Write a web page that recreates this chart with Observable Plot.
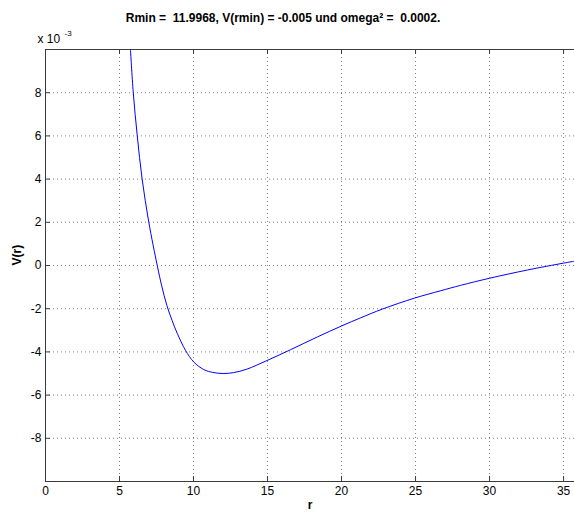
<!DOCTYPE html>
<html>
<head>
<meta charset="utf-8">
<script src="https://cdn.jsdelivr.net/npm/d3@7"></script>
<script src="https://cdn.jsdelivr.net/npm/@observablehq/plot@0.6"></script>
<style>
  html, body { margin: 0; padding: 0; background: #fff; }
  svg { white-space: pre; }
</style>
</head>
<body>
<div id="chart"></div>
<script>
// r values
const r = [5.74, 5.93, 6.20, 6.53, 6.98, 7.55, 7.85, 8.20, 8.55, 8.90, 9.46, 10.02, 10.7, 11.3, 12.0, 12.7, 13.6, 14.9, 16.55, 18.36, 20.0, 21.3, 22.75, 24.93, 26.69, 28.04, 30.0, 32.55, 35.0, 35.74];
// V(r) in units of 1e-3
const v = [10.0, 8.0, 6.0, 4.0, 2.0, 0.0, -0.94, -1.85, -2.54, -3.14, -3.93, -4.47, -4.82, -4.95, -5.0, -4.96, -4.80, -4.42, -3.90, -3.31, -2.80, -2.42, -2.02, -1.51, -1.17, -0.92, -0.59, -0.21, 0.11, 0.20];
const xTicks = [0, 5, 10, 15, 20, 25, 30, 35];
const yTicks = [-8, -6, -4, -2, 0, 2, 4, 6, 8];
const xGrid = [5, 10, 15, 20, 25, 30, 35];
const titleText = "Rmin =  11.9968, V(rmin) = -0.005 und omega² =  0.0002.";
const xLabel = "r";
const yLabel = "V(r)";
const expBase = "x 10";
const expPow = "-3";

const data = r.map((d, i) => ({r: d, v: v[i]}));

const W = 574, H = 518;
const mL = 45, mR = 0, mT = 49, mB = 37;
const fw = W - mL - mR, fh = H - mT - mB;
const axisColor = "#3a3a3a";

const chart = Plot.plot({
  width: W,
  height: H,
  marginLeft: mL,
  marginRight: mR,
  marginTop: mT,
  marginBottom: mB,
  style: {fontFamily: "'Liberation Sans', Arial, sans-serif", fontSize: "12px", background: "#fff", color: "#000"},
  x: {domain: [0, 35.74]},
  y: {domain: [-10, 10]},
  marks: [
    // grid
    Plot.ruleX(xGrid, {x: d => d, stroke: "#000", strokeOpacity: 0.5, strokeDasharray: "1,3"}),
    Plot.ruleY(yTicks, {y: d => d, stroke: "#000", strokeOpacity: 0.5, strokeDasharray: "1,3"}),
    // curve
    Plot.line(data, {x: "r", y: "v", stroke: "#0000ff", strokeWidth: 1, curve: "catmull-rom", clip: true}),
    // axes box
    Plot.ruleX([0], {stroke: axisColor}),
    Plot.ruleY([-10, 10], {stroke: axisColor}),
    // inward tick marks
    Plot.tickX(xTicks, {x: d => d, insetTop: fh - 5, stroke: axisColor}),
    Plot.tickX(xTicks, {x: d => d, insetBottom: fh - 5, stroke: axisColor}),
    Plot.tickY(yTicks, {y: d => d, insetRight: fw - 5, stroke: axisColor}),
    // tick labels
    Plot.axisX({ticks: xTicks, tickSize: 0, tickPadding: 5, tickFormat: d => String(d), fontSize: 12, label: null}),
    Plot.axisY({ticks: yTicks, tickSize: 0, tickPadding: 4, tickFormat: d => String(d), fontSize: 12, label: null}),
    // labels
    Plot.text([titleText], {frameAnchor: "top", dx: -27, dy: -28, lineAnchor: "bottom", fontWeight: "bold", fontSize: 12}),
    Plot.text([expBase], {frameAnchor: "top-left", dx: -8, dy: -7, lineAnchor: "bottom", textAnchor: "start", fontSize: 12}),
    Plot.text([expPow], {frameAnchor: "top-left", dx: 19, dy: -14, lineAnchor: "bottom", textAnchor: "start", fontSize: 8}),
    Plot.text([yLabel], {frameAnchor: "left", dx: -28, rotate: -90, fontWeight: "bold", fontSize: 12}),
    Plot.text([xLabel], {frameAnchor: "bottom", dx: 0, dy: 24, lineAnchor: "middle", fontWeight: "bold", fontSize: 12})
  ]
});
document.getElementById("chart").appendChild(chart);
</script>
</body>
</html>
